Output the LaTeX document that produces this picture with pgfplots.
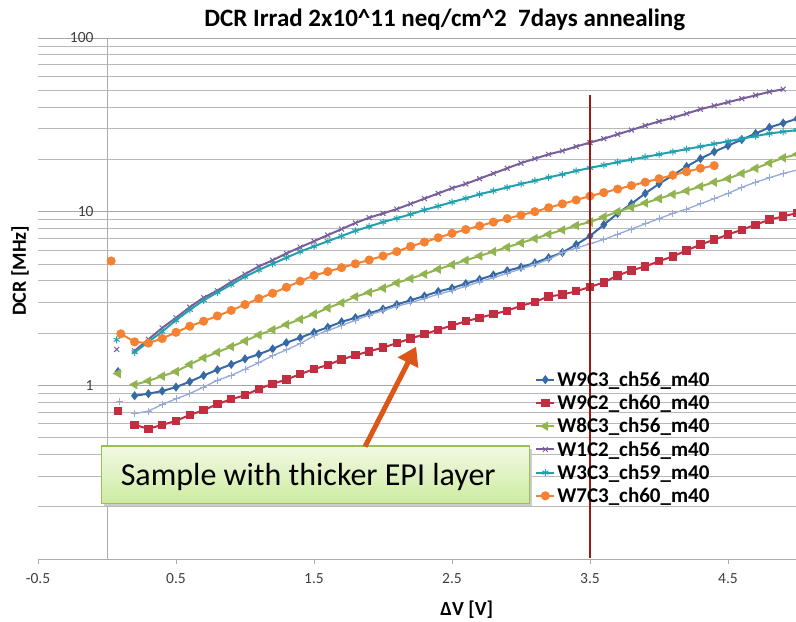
\documentclass[border=0pt]{standalone}
\usepackage{pgfplots}
\pgfplotsset{compat=1.18}
\usepackage{fontspec}
\setmainfont{Carlito}
\usetikzlibrary{arrows.meta}

\definecolor{cBlue}{RGB}{55,105,165}
\definecolor{cRed}{RGB}{195,45,65}
\definecolor{cGreen}{RGB}{145,180,80}
\definecolor{cPurple}{RGB}{120,95,155}
\definecolor{cTeal}{RGB}{35,160,175}
\definecolor{cOrange}{RGB}{245,130,50}
\definecolor{cLight}{RGB}{150,170,215}
\definecolor{vline}{RGB}{150,25,20}
\definecolor{arrowc}{RGB}{220,85,25}
\definecolor{boxline}{RGB}{155,190,90}
\definecolor{boxtop}{RGB}{242,249,228}
\definecolor{boxbot}{RGB}{205,235,160}

\begin{document}
\begin{tikzpicture}
\begin{axis}[
  scale only axis, width=759pt, height=521pt,
  xmin=-0.5, xmax=5, ymin=0.1, ymax=100, ymode=log,
  axis x line=bottom, axis y line=center,
  axis line style={-, draw=gray!65, line width=0.8pt},
  xtick={-0.5,0.5,1.5,2.5,3.5,4.5},
  xticklabels={-0.5,0.5,1.5,2.5,3.5,4.5},
  ytick={0.1,1,10,100}, yticklabels={0.1,1,10,100},
  tick align=outside, major tick length=5pt, minor tick length=0pt,
  xtick style={draw=gray!65, line width=0.8pt},
  ytick style={draw=none},
  ticklabel style={font=\fontsize{15.5}{18}\selectfont, text=black!75},
  xticklabel style={yshift=-6pt},
  yticklabel style={xshift=-5pt},
  ymajorgrids, yminorgrids,
  major grid style={draw=gray!70, line width=0.8pt},
  minor grid style={draw=gray!55, line width=0.8pt},
  unbounded coords=jump,
  clip mode=individual,
  every axis plot/.append style={line width=2pt},
  legend style={at={(rel axis cs:0.655,0.364)}, anchor=north west,
    draw=none, fill=none, inner sep=0pt,
    font=\bfseries\fontsize{21}{23}\selectfont, row sep=3pt},
  legend cell align=left,
  legend image code/.code={\draw[mark repeat=2,mark phase=2] plot coordinates {(0pt,0pt)(9pt,0pt)(18pt,0pt)};},
]
% W9C3_ch56_m40
\addplot[cBlue, mark=diamond*, mark size=3pt] coordinates {
(0.08,1.2) (0.14,nan)
(0.2,0.871) (0.3,0.895) (0.4,0.927) (0.5,0.977) (0.6,1.05) (0.7,1.14) (0.8,1.23) (0.9,1.32)
(1.0,1.42) (1.1,1.51) (1.2,1.62) (1.3,1.76) (1.4,1.88) (1.5,2.02) (1.6,2.16) (1.7,2.32) (1.8,2.45) (1.9,2.60)
(2.0,2.75) (2.1,2.92) (2.2,3.09) (2.3,3.27) (2.4,3.47) (2.5,3.63) (2.6,3.85) (2.7,4.07) (2.8,4.32) (2.9,4.57)
(3.0,4.79) (3.1,5.07) (3.2,5.43) (3.3,5.82) (3.4,6.46) (3.5,7.24) (3.6,8.41) (3.7,9.77) (3.8,11.09) (3.9,12.74)
(4.0,14.45) (4.1,16.22) (4.2,18.20) (4.3,20.18) (4.4,22.13) (4.5,23.99) (4.6,26.0) (4.7,28.18) (4.8,30.55) (4.9,32.36)
(5.0,34.28)};
\addlegendentry{W9C3\_ch56\_m40}
% W9C2_ch60_m40
\addplot[cRed, mark=square*, mark size=3.2pt] coordinates {
(0.08,0.71) (0.14,nan)
(0.2,0.592) (0.3,0.562) (0.4,0.592) (0.5,0.624) (0.6,0.676) (0.7,0.719) (0.8,0.780) (0.9,0.832)
(1.0,0.877) (1.1,0.955) (1.2,1.02) (1.3,1.08) (1.4,1.16) (1.5,1.24) (1.6,1.31) (1.7,1.41) (1.8,1.49) (1.9,1.57)
(2.0,1.65) (2.1,1.75) (2.2,1.86) (2.3,1.97) (2.4,2.09) (2.5,2.21) (2.6,2.34) (2.7,2.45) (2.8,2.57) (2.9,2.69)
(3.0,2.87) (3.1,3.02) (3.2,3.25) (3.3,3.33) (3.4,3.48) (3.5,3.69) (3.6,3.91) (3.7,4.29) (3.8,4.59) (3.9,4.84)
(4.0,5.18) (4.1,5.53) (4.2,5.98) (4.3,6.46) (4.4,6.90) (4.5,7.38) (4.6,7.87) (4.7,8.41) (4.8,8.99) (4.9,9.40)
(5.0,9.82)};
\addlegendentry{W9C2\_ch60\_m40}
% W8C3_ch56_m40
\addplot[cGreen, mark=triangle*, mark size=3.5pt, mark options={rotate=90}] coordinates {
(0.08,1.17) (0.14,nan)
(0.2,1.01) (0.3,1.06) (0.4,1.13) (0.5,1.20) (0.6,1.32) (0.7,1.44) (0.8,1.55) (0.9,1.67)
(1.0,1.80) (1.1,1.95) (1.2,2.09) (1.3,2.24) (1.4,2.40) (1.5,2.57) (1.6,2.79) (1.7,2.99) (1.8,3.24) (1.9,3.43)
(2.0,3.63) (2.1,3.89) (2.2,4.12) (2.3,4.37) (2.4,4.66) (2.5,4.95) (2.6,5.25) (2.7,5.56) (2.8,5.89) (2.9,6.24)
(3.0,6.61) (3.1,7.00) (3.2,7.41) (3.3,7.85) (3.4,8.32) (3.5,8.71) (3.6,9.33) (3.7,10.0) (3.8,10.59) (3.9,11.22)
(4.0,11.89) (4.1,12.59) (4.2,13.18) (4.3,13.96) (4.4,14.79) (4.5,15.49) (4.6,16.60) (4.7,17.78) (4.8,19.05) (4.9,20.42)
(5.0,21.38)};
\addlegendentry{W8C3\_ch56\_m40}
% W1C2_ch56_m40
\addplot[cPurple, mark=x, mark size=3.5pt, mark options={line width=1pt}] coordinates {
(0.07,1.61) (0.14,nan)
(0.2,1.58) (0.3,1.84) (0.4,2.14) (0.5,2.45) (0.6,2.82) (0.7,3.20) (0.8,3.51) (0.9,3.94)
(1.0,4.37) (1.1,4.84) (1.2,5.25) (1.3,5.75) (1.4,6.24) (1.5,6.76) (1.6,7.33) (1.7,7.94) (1.8,8.61) (1.9,9.23)
(2.0,9.77) (2.1,10.35) (2.2,11.09) (2.3,11.89) (2.4,12.74) (2.5,13.65) (2.6,14.45) (2.7,15.49) (2.8,16.60) (2.9,17.78)
(3.0,19.05) (3.1,20.18) (3.2,21.38) (3.3,22.39) (3.4,23.71) (3.5,25.0) (3.6,26.3) (3.7,27.9) (3.8,29.5) (3.9,31.3)
(4.0,33.1) (4.1,34.7) (4.2,36.7) (4.3,38.9) (4.4,40.7) (4.5,42.7) (4.6,44.7) (4.7,46.8) (4.8,49.0) (4.9,50.7)};
\addlegendentry{W1C2\_ch56\_m40}
% W3C3_ch59_m40
\addplot[cTeal, mark=asterisk, mark size=3.5pt, mark options={line width=1pt}] coordinates {
(0.07,1.83) (0.14,nan)
(0.2,1.55) (0.3,1.78) (0.4,2.04) (0.5,2.37) (0.6,2.72) (0.7,3.09) (0.8,3.43) (0.9,3.80)
(1.0,4.22) (1.1,4.62) (1.2,5.01) (1.3,5.43) (1.4,5.89) (1.5,6.31) (1.6,6.76) (1.7,7.24) (1.8,7.76) (1.9,8.22)
(2.0,8.71) (2.1,9.16) (2.2,9.66) (2.3,10.23) (2.4,10.76) (2.5,11.35) (2.6,11.94) (2.7,12.59) (2.8,13.18) (2.9,13.80)
(3.0,14.45) (3.1,15.07) (3.2,15.74) (3.3,16.41) (3.4,17.18) (3.5,17.86) (3.6,18.54) (3.7,19.28) (3.8,19.95) (3.9,20.65)
(4.0,21.38) (4.1,22.13) (4.2,22.91) (4.3,23.71) (4.4,24.55) (4.5,25.41) (4.6,26.30) (4.7,27.23) (4.8,28.18) (4.9,28.84)
(5.0,29.51)};
\addlegendentry{W3C3\_ch59\_m40}
% W7C3_ch60_m40
\addplot[cOrange, mark=*, mark size=3.5pt] coordinates {
(0.03,5.2) (0.06,nan)
(0.1,1.98) (0.2,1.78) (0.3,1.75) (0.4,1.86) (0.5,2.02) (0.6,2.19) (0.7,2.34) (0.8,2.51) (0.9,2.70)
(1.0,2.92) (1.1,3.16) (1.2,3.39) (1.3,3.67) (1.4,3.98) (1.5,4.29) (1.6,4.52) (1.7,4.76) (1.8,5.01) (1.9,5.27)
(2.0,5.56) (2.1,5.89) (2.2,6.31) (2.3,6.68) (2.4,7.08) (2.5,7.50) (2.6,7.89) (2.7,8.28) (2.8,8.71) (2.9,9.12)
(3.0,9.55) (3.1,10.0) (3.2,10.54) (3.3,11.09) (3.4,11.67) (3.5,12.30) (3.6,12.88) (3.7,13.49) (3.8,14.13) (3.9,14.79)
(4.0,15.49) (4.1,16.22) (4.2,16.98) (4.3,17.78) (4.4,18.41)};
\addlegendentry{W7C3\_ch60\_m40}
% unlabelled series
\addplot[cLight, mark=+, mark size=3.5pt, line width=1.3pt, mark options={line width=0.8pt}, forget plot] coordinates {
(0.09,0.81) (0.14,nan)
(0.2,0.687) (0.3,0.711) (0.4,0.776) (0.5,0.836) (0.6,0.897) (0.7,0.977) (0.8,1.07) (0.9,1.14)
(1.0,1.24) (1.1,1.35) (1.2,1.48) (1.3,1.60) (1.4,1.74) (1.5,1.93) (1.6,2.07) (1.7,2.21) (1.8,2.37) (1.9,2.54)
(2.0,2.69) (2.1,2.85) (2.2,2.99) (2.3,3.16) (2.4,3.35) (2.5,3.51) (2.6,3.72) (2.7,3.94) (2.8,4.17) (2.9,4.42)
(3.0,4.68) (3.1,4.95) (3.2,5.31) (3.3,5.82) (3.4,6.17) (3.5,6.53) (3.6,6.92) (3.7,7.41) (3.8,7.94) (3.9,8.51)
(4.0,9.12) (4.1,9.77) (4.2,10.35) (4.3,11.09) (4.4,11.89) (4.5,12.74) (4.6,13.80) (4.7,14.79) (4.8,15.67) (4.9,16.60)
(5.0,17.38)};
% marker line at 3.5 V
\addplot[vline, line width=1.8pt, forget plot] coordinates {(3.5,0.102) (3.5,47)};

% annotation
\fill[black!20] ([shift={(2pt,-3pt)}]rel axis cs:0.084,0.107) rectangle ([shift={(2pt,-3pt)}]rel axis cs:0.648,0.217);
\draw[draw=boxline, line width=1.2pt, top color=boxtop, bottom color=boxbot]
  (rel axis cs:0.084,0.107) rectangle (rel axis cs:0.648,0.217);
\node[font=\fontsize{32}{36}\selectfont] at (rel axis cs:0.356,0.157) {Sample with thicker EPI layer};
\draw[arrowc, line width=5pt, -{Triangle[width=22pt,length=18pt]}]
  (axis cs:1.87,0.444) -- (axis cs:2.24,1.67);

% titles
\node[font=\bfseries\fontsize{25}{30}\selectfont] at ([yshift=18pt]rel axis cs:0.536,1) {DCR Irrad 2x10\textasciicircum 11 neq/cm\textasciicircum 2\ \ 7days annealing};
\node[font=\bfseries\fontsize{20}{24}\selectfont, rotate=90] at (rel axis cs:-0.0237,0.553) {DCR [MHz]};
\node[font=\bfseries\fontsize{20}{24}\selectfont] at (rel axis cs:0.565,-0.098) {ΔV [V]};

\coordinate (bl) at (rel axis cs:0,0);
\coordinate (tr) at (rel axis cs:1,1);
\end{axis}
\pgfresetboundingbox
\path ([shift={(-38pt,-62pt)}]bl) rectangle ([shift={(-1pt,38pt)}]tr);
\end{tikzpicture}
\end{document}
